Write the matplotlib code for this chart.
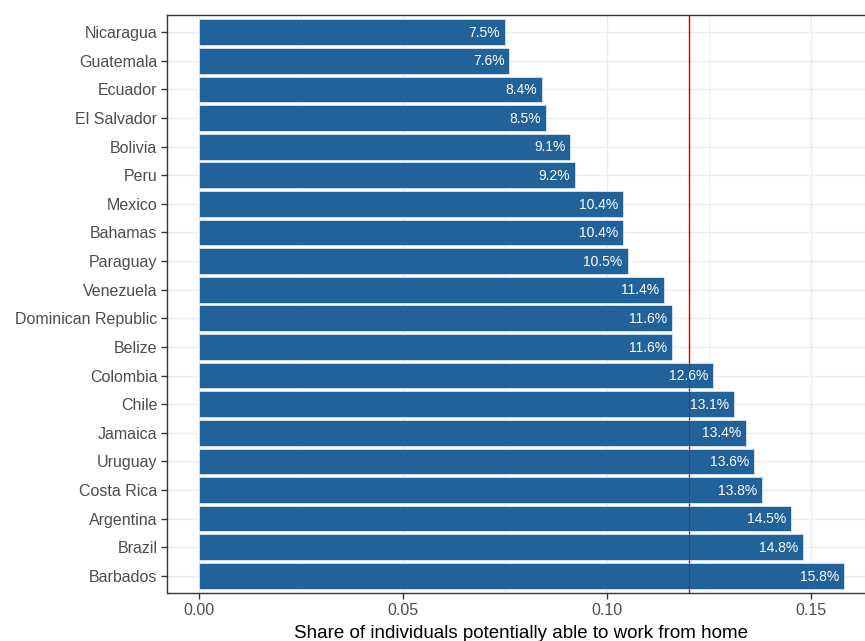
import numpy as np
import matplotlib
matplotlib.use("Agg")
from matplotlib import pyplot as plt
from matplotlib.ticker import MultipleLocator

plt.rcParams['font.family'] = ['Liberation Sans', 'DejaVu Sans']

# Share of workers able to work from home, top to bottom
countries = [
    "Nicaragua", "Guatemala", "Ecuador", "El Salvador", "Bolivia", "Peru",
    "Mexico", "Bahamas", "Paraguay", "Venezuela", "Dominican Republic",
    "Belize", "Colombia", "Chile", "Jamaica", "Uruguay", "Costa Rica",
    "Argentina", "Brazil", "Barbados",
]
shares = [
    0.075, 0.076, 0.084, 0.085, 0.091, 0.092, 0.104, 0.104, 0.105, 0.114,
    0.116, 0.116, 0.126, 0.131, 0.134, 0.136, 0.138, 0.145, 0.148, 0.158,
]
x_ticks = [0.00, 0.05, 0.10, 0.15]
x_tick_labels = ["0.00", "0.05", "0.10", "0.15"]
reference_line = 0.12

BAR_COLOR = "#22629B"
GRID_COLOR = "#EBEBEB"
TEXT_GRAY = "#4D4D4D"

fig = plt.figure(figsize=(8.65, 6.41), dpi=100)
# panel runs past the right edge, as in the cropped original
ax = fig.add_axes([167 / 865, 1 - 593 / 641, (876 - 167) / 865, (593 - 15) / 641])

n = len(countries)
ypos = np.arange(n)[::-1]

ax.axvline(reference_line, color="red", lw=1.0, zorder=2)
bars = ax.barh(ypos, shares, height=0.9, color=BAR_COLOR,
               edgecolor="white", linewidth=0.4, zorder=3)
# faint trace of the line across the bars
ax.axvline(reference_line, color="#5a1020", lw=0.8, alpha=0.35, zorder=3.5)

for yy, val in zip(ypos, shares):
    ax.annotate(f"{val * 100:.1f}%", xy=(val, yy), xytext=(-3.5, -0.5),
                textcoords="offset points", ha="right", va="center",
                color="white", fontsize=10, zorder=4)

ax.set_xlim(-0.0079, 0.1659)
ax.set_ylim(-0.6, n - 1 + 0.6)
ax.set_yticks(ypos)
ax.set_yticklabels(countries)
ax.set_xticks(x_ticks)
ax.set_xticklabels(x_tick_labels)
ax.xaxis.set_minor_locator(MultipleLocator(0.025))

ax.grid(which="major", color=GRID_COLOR, lw=1.0, zorder=0)
ax.grid(which="minor", axis="x", color=GRID_COLOR, lw=0.6, zorder=0)
ax.set_axisbelow(True)

ax.tick_params(axis="both", which="major", length=4, width=1.0,
               color="#333333", labelcolor=TEXT_GRAY, labelsize=11.5, pad=3)
ax.tick_params(axis="both", which="minor", length=0)
for sp in ax.spines.values():
    sp.set_color("#333333")
    sp.set_linewidth(1.0)

fig.text(521 / 865, 1 - 634 / 641, "Share of individuals potentially able to work from home",
         ha="center", va="center", fontsize=13.5, color="black")

fig.savefig("out.png", dpi=100)
